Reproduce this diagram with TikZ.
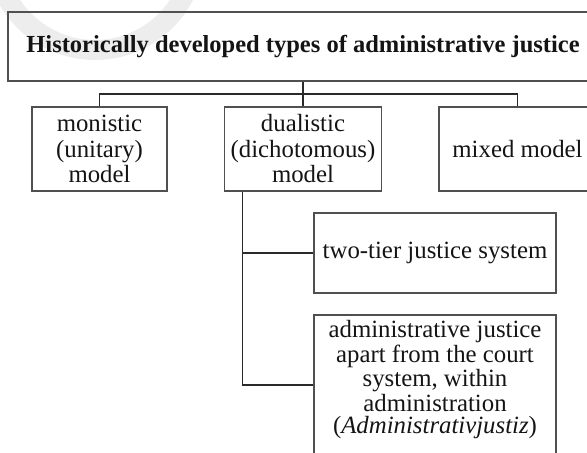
\documentclass[tikz,border=0pt]{standalone}
\usepackage{fontspec}
\setmainfont{Liberation Serif}
\usepackage{tikz}
\usetikzlibrary{calc}
\definecolor{edge}{HTML}{505050}
\definecolor{wire}{HTML}{2A2A2A}
\definecolor{ink}{HTML}{141414}
\definecolor{ghost}{HTML}{EDEDED}
\newcommand{\boxfont}{\fontsize{12.4}{12.75}\selectfont}
\tikzset{box/.style = {draw=edge, line width=0.65pt, inner sep=0, align=center,
                       text=ink, font=\boxfont}}
\tikzset{link/.style = {draw=wire, line width=0.7pt}}

\begin{document}
\begin{tikzpicture}[x=0.5pt, y=-0.5pt]
    \useasboundingbox (0, 0) rectangle (587, 453);
    \clip (0, 0) rectangle (587, 453);
    \draw [ghost, line width=10pt] (95, -50) circle [radius=50pt];

    \node [box, minimum width=295pt, minimum height=34.5pt, font={\fontsize{12.25}{14}\selectfont\bfseries}] (top) at (303, 46.5)
          {Historically developed types of administrative justice};

    \node [box, minimum width=67.5pt, minimum height=42pt] (mono) at (99.5, 149) {monistic\\(unitary)\\model};
    \node [box, minimum width=78.5pt, minimum height=42pt] (dual) at (303, 149) {dualistic\\(dichotomous)\\model};
    \node [box, minimum width=78.5pt, minimum height=42pt] (mixed) at (517.5, 149) {mixed model};

    \node [box, minimum width=121pt, minimum height=40pt] (tier) at (435, 253) {two-tier justice system};
    \node [box, minimum width=121pt, minimum height=70pt, font={\fontsize{12.4}{11}\selectfont}] (admin) at (435, 385)
          {administrative justice\\apart from the court\\system, within\\administration\\(\textit{Administrativjustiz})\rule[-8pt]{0pt}{0pt}};

    \coordinate (bus) at (0, 94);
    \draw [link] (top.south) -- (dual.north);
    \draw [link] (mono.north) |- (mixed.north |- bus) -- (mixed.north);
    \draw [link] ([xshift=9.25pt]dual.south west) |- (tier.west);
    \draw [link] ([xshift=9.25pt]dual.south west) |- (admin.west);
  \end{tikzpicture}
\end{document}
